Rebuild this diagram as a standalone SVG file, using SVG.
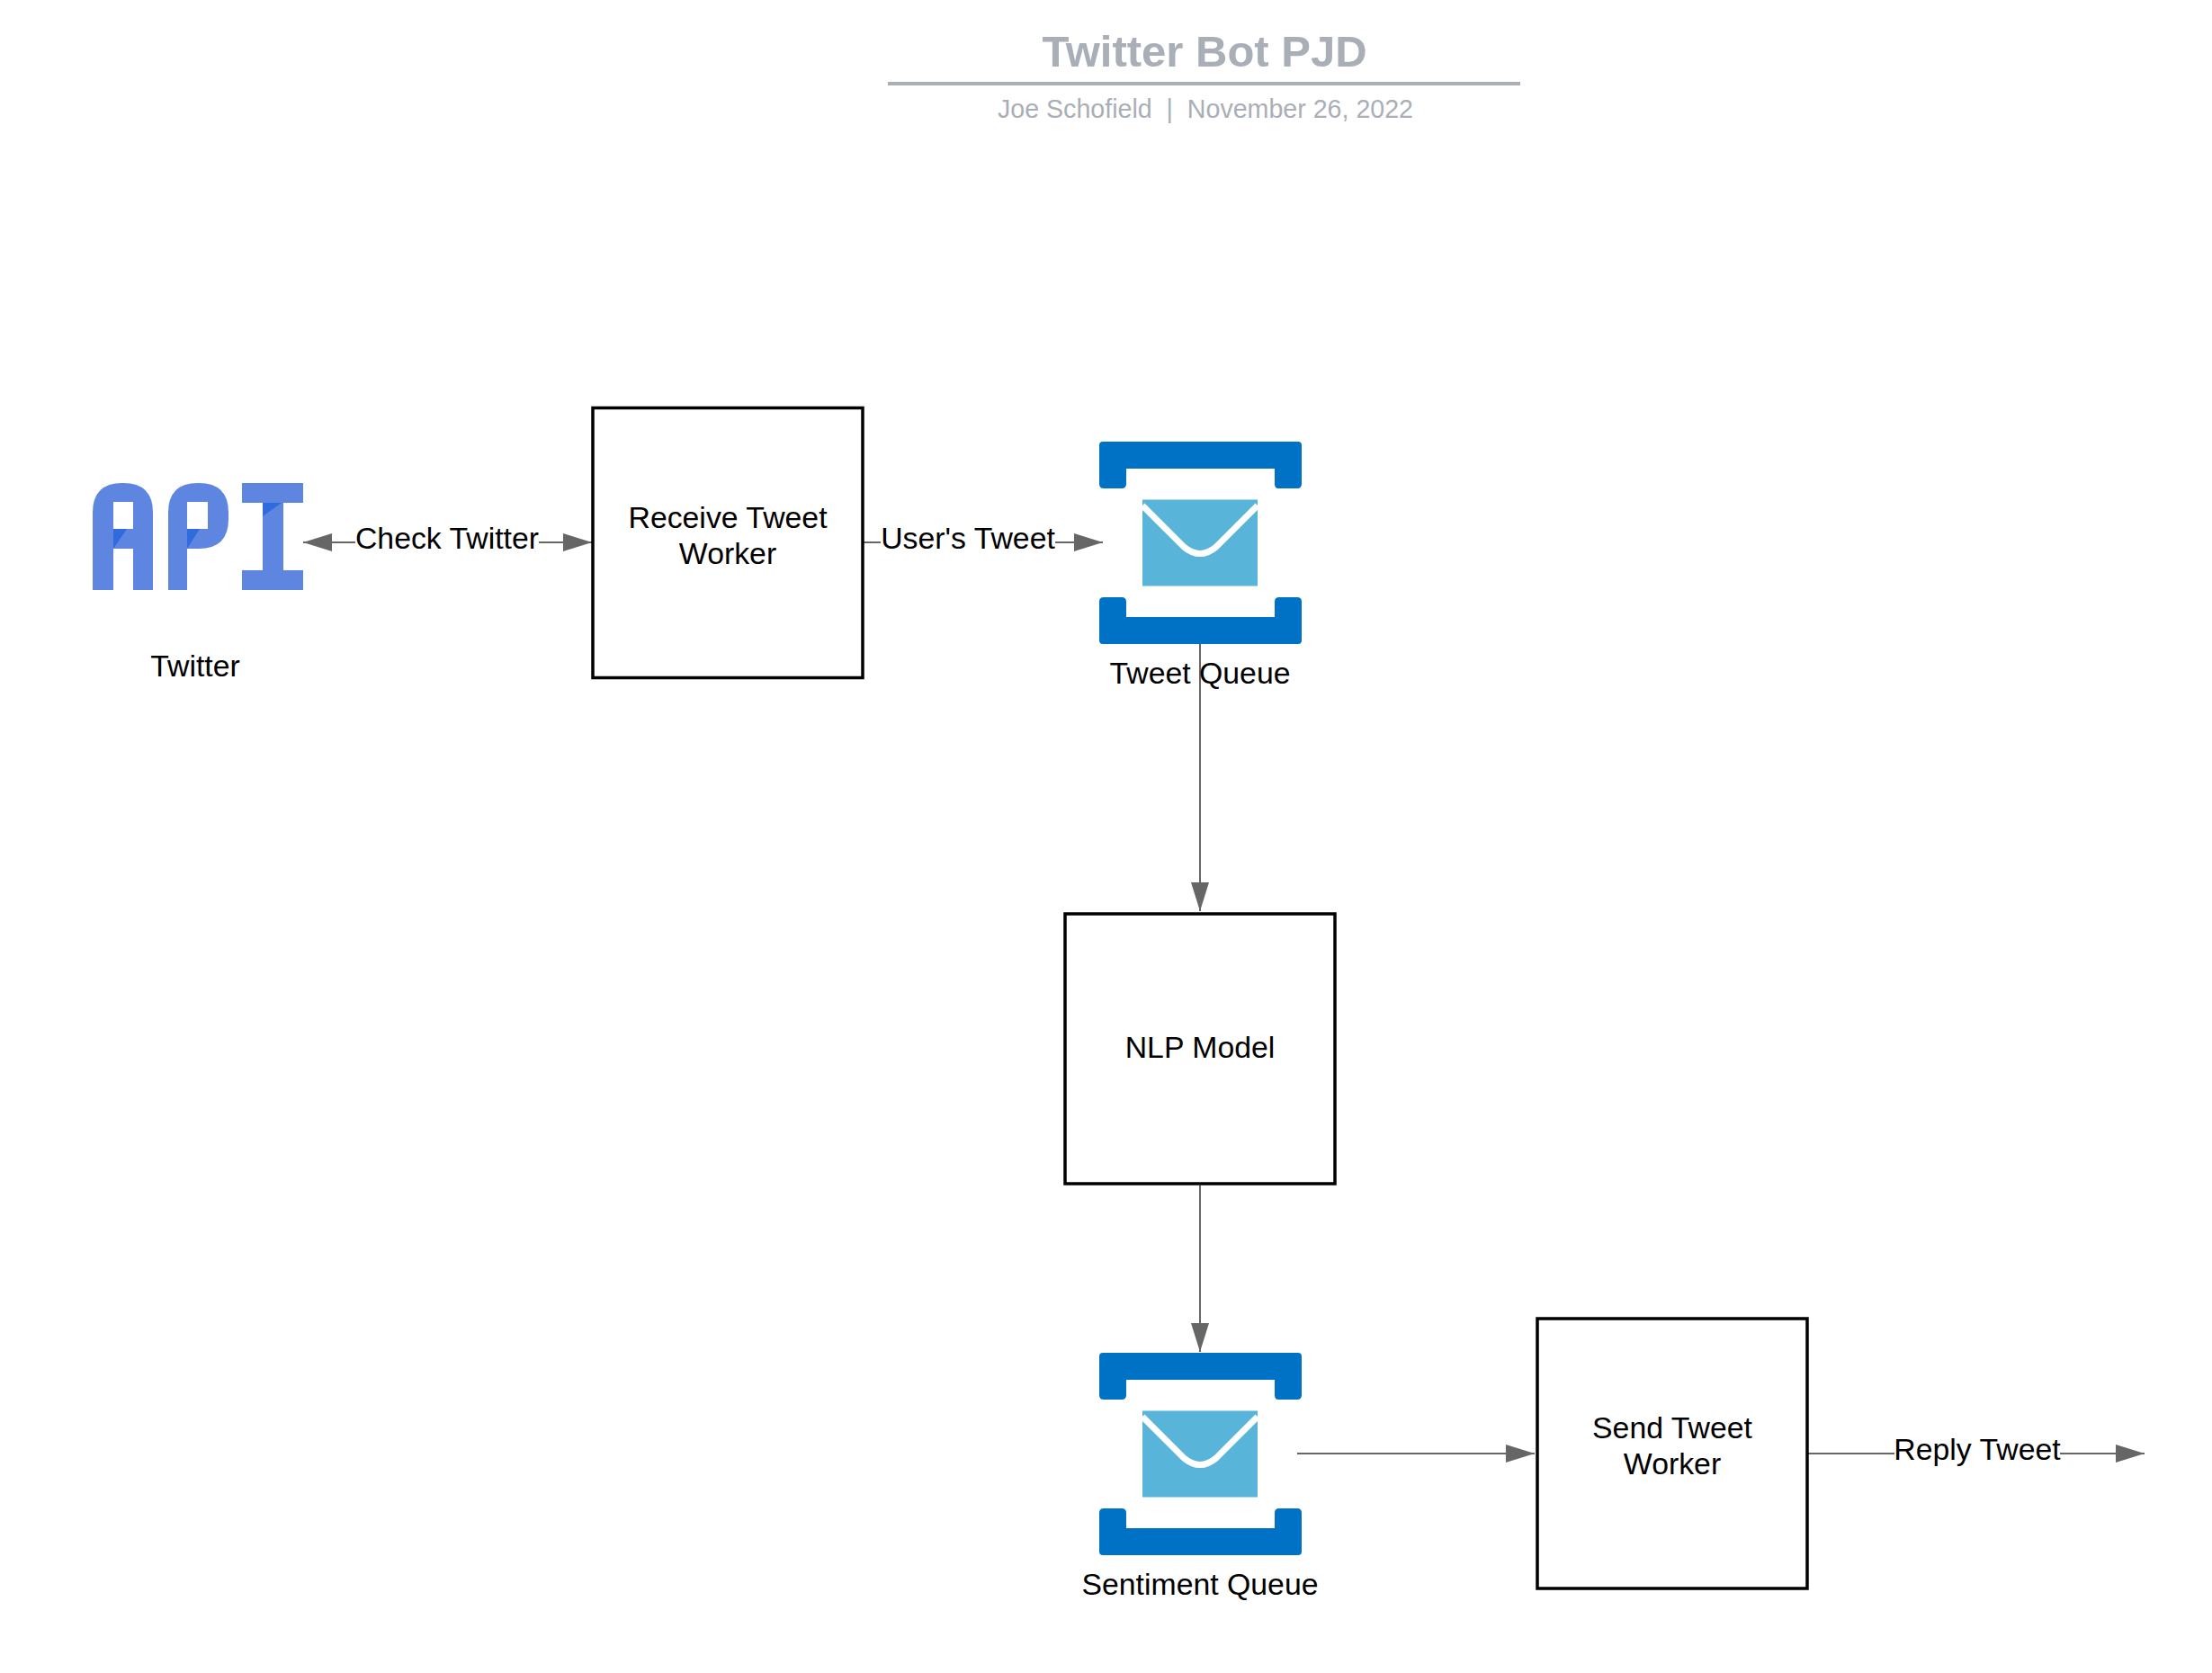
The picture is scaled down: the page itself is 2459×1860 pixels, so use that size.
<svg xmlns="http://www.w3.org/2000/svg" width="2459" height="1860" viewBox="0 0 2459 1860">
<defs>
<style>
text{font-family:"Liberation Sans",Arial,sans-serif;font-size:33.8px;fill:#000;text-anchor:middle}
.box{fill:#fff;stroke:#000;stroke-width:3.5}
.conn{fill:none;stroke:#666;stroke-width:2}
.bar{fill:#0072c6}
.api{fill:#5e85e0}
.fold{fill:#2f6bdc}
</style>
<marker id="ah" viewBox="0 0 32 20" refX="32" refY="10" markerWidth="32" markerHeight="20" markerUnits="userSpaceOnUse" orient="auto-start-reverse"><path d="M0 0L32 10L0 20Z" fill="#666"/></marker>
<g id="queue">
<path class="bar" d="M1226 491H1443Q1447 491 1447 495V538Q1447 543 1442 543H1421Q1417 543 1417 538V521H1252V538Q1252 543 1247 543H1227Q1222 543 1222 538V495Q1222 491 1226 491Z"/>
<path class="bar" d="M1227 664H1247Q1252 664 1252 669V686H1417V669Q1417 664 1422 664H1442Q1447 664 1447 669V712Q1447 716 1443 716H1226Q1222 716 1222 712V669Q1222 664 1227 664Z"/>
<rect x="1270" y="555.500" width="128" height="96" fill="#59b4d9"/>
<path d="M1270 562L1316 608Q1334 623 1352 608L1398 562" fill="none" stroke="#fff" stroke-width="7"/>
</g>
</defs>
<rect width="2459" height="1860" fill="#fff"/>
<g id="title">
<text x="1339" y="74" style="font-size:49px;font-weight:700;fill:#a9aeb7">Twitter Bot PJD</text>
<rect x="987" y="91" width="703" height="4" fill="#a9aeb7"/>
<text x="1340" y="131" style="font-size:28.600px;fill:#a9aeb7" xml:space="preserve">Joe Schofield  |  November 26, 2022</text>
</g>
<g id="connectors">
<path class="conn" d="M337 603H658" marker-start="url(#ah)" marker-end="url(#ah)"/>
<path class="conn" d="M960 603H1226" marker-end="url(#ah)"/>
<path class="conn" d="M1334 716V1013" marker-end="url(#ah)"/>
<path class="conn" d="M1334 1318V1503" marker-end="url(#ah)"/>
<path class="conn" d="M1442 1616H1706" marker-end="url(#ah)"/>
<path class="conn" d="M2010 1616H2384" marker-end="url(#ah)"/>
</g>
<g id="api-twitter">
<path class="api" fill-rule="evenodd" d="M103 656V570Q103 537 136 537H137Q170 537 170 570V656H148V610H126V656ZM126 558V588H148V558Z"/>
<path class="fold" d="M126 588H141L126 610Z"/>
<path class="api" fill-rule="evenodd" d="M187 656V570Q187 537 220 537H221Q254 537 254 570V577Q254 610 221 610H208V656ZM208 558V588H231V558Z"/>
<path class="fold" d="M208 588H222L208 610Z"/>
<path class="api" d="M269 537H337V559H315V634H337V656H269V634H292V559H269Z"/>
<path class="fold" d="M292 559H313L292 574Z"/>
<text x="217" y="752">Twitter</text>
</g>
<g id="receive-worker">
<rect class="box" x="659" y="453.500" width="300" height="300"/>
<text x="809" y="587">Receive Tweet</text><text x="809" y="627">Worker</text>
</g>
<g id="tweet-queue">
<use href="#queue"/>
<text x="1334" y="760">Tweet Queue</text>
</g>
<g id="nlp-model">
<rect class="box" x="1184" y="1016" width="300" height="300"/>
<text x="1334" y="1176">NLP Model</text>
</g>
<g id="sentiment-queue">
<use href="#queue" y="1013"/>
<text x="1334" y="1773">Sentiment Queue</text>
</g>
<g id="send-worker">
<rect class="box" x="1709" y="1466" width="300" height="300"/>
<text x="1859" y="1599">Send Tweet</text><text x="1859" y="1639">Worker</text>
</g>
<g id="connector-labels">
<rect x="395" y="580" width="204" height="44" fill="#fff"/>
<text x="497" y="610">Check Twitter</text>
<rect x="979" y="580" width="194" height="44" fill="#fff"/>
<text x="1076" y="610">User's Tweet</text>
<rect x="2106" y="1592" width="184" height="44" fill="#fff"/>
<text x="2198" y="1623">Reply Tweet</text>
</g>
</svg>
